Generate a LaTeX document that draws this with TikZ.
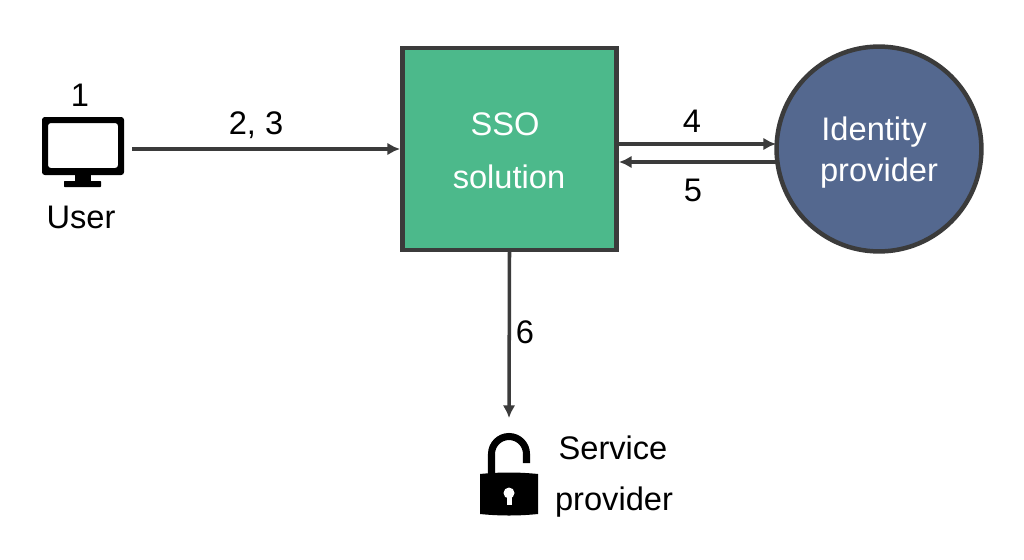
\documentclass[tikz,border=0pt]{standalone}
\usepackage{fontspec}
\setmainfont{Liberation Sans}
\usetikzlibrary{arrows.meta}
\definecolor{ssogreen}{HTML}{4CB98B}
\definecolor{idpblue}{HTML}{54688F}
\definecolor{linegray}{HTML}{3B3B3B}
\tikzset{
    flow/.style={draw=linegray, line width=2.5pt, -{Latex[length=9pt,width=9pt]}},
    lbl/.style={font=\fontsize{23.2}{27}\selectfont, text=black, inner sep=0pt},
    lblwhite/.style={lbl, text=white},
}
\begin{document}
\begin{tikzpicture}[x=0.025cm,y=-0.025cm]
    \useasboundingbox (0,0) rectangle (1024,559);
    % SSO box and identity provider
    \node[draw=linegray, fill=ssogreen, line width=3.2pt, minimum width=5.36cm, minimum height=5.04cm, inner sep=0pt] (sso) at (509.5,149) {};
    \node[draw=linegray, fill=idpblue, circle, line width=3.2pt, minimum size=5.12cm, inner sep=0pt] (idp) at (879,149) {};
    \node[lblwhite] (ssoa) at (505,124) {SSO};
    \node[lblwhite] (ssob) at (509,177) {solution};
    \node[lblwhite] (idpa) at (874,132) {Identity};
    \node[lblwhite] (idpb) at (879,173) {provider};
    % User monitor
    \fill[black, rounded corners=2pt, even odd rule] (42,117) rectangle (124,175) (48,123) rectangle (118,168);
    \fill[black] (75,175) rectangle (91,181);
    \fill[black, rounded corners=0.5pt] (64,181) rectangle (101,187);
    \node[lbl] (one) at (80,95) {1};
    \node[lbl] (user) at (81,217) {User};
    % Lock
    \draw[black, line width=5pt] (491.5,475) -- (491.5,454) arc[start angle=180, end angle=360, radius=17.5] -- (526.5,463);
    \fill[black] (480,474) .. controls (500,472) and (518,472) .. (538,474) -- (538,514) .. controls (518,516) and (500,516) .. (480,514) -- cycle;
    \fill[white] (509,493) circle (5.5);
    \fill[white] (506.5,495) rectangle (511.5,505);
    \node[lbl] (sp) at (613,448) {Service};
    \node[lbl] (spb) at (614,502) {provider};
    % Arrows
    \coordinate (userout) at (132,149);
    \coordinate (idpin) at (776,144);
    \coordinate (idpout) at (777,162);
    \coordinate (spin) at (509,418);
    \draw[flow] (userout) -- (userout -| sso.west);
    \draw[flow] (idpin -| sso.east) -- (idpin);
    \draw[flow] (idpout) -- (idpout -| sso.east);
    \draw[flow] (sso.south) -- (spin);
    \node[lbl] (l23) at (256,125) {2, 3};
    \node[lbl] (l4) at (692,121) {4};
    \node[lbl] (l5) at (693,190) {5};
    \node[lbl] (l6) at (525,332) {6};
\end{tikzpicture}
\end{document}
